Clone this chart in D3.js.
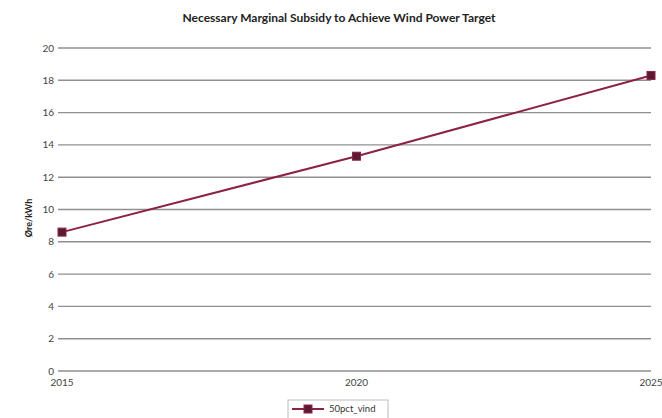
<!DOCTYPE html>
<html><head><meta charset="utf-8">
<script src="https://cdn.jsdelivr.net/npm/d3@7"></script>
<style>body{margin:0;background:#fff}svg{display:block;font-family:Lato,"Open Sans",sans-serif}</style>
</head><body>
<svg id="c" width="662" height="418"></svg>
<script>
const years = [2015, 2020, 2025];
const values = [8.6, 13.3, 18.3];
const yTicks = [0, 2, 4, 6, 8, 10, 12, 14, 16, 18, 20];
const seriesName = "50pct_vind";
const title = "Necessary Marginal Subsidy to Achieve Wind Power Target";
const yLabel = "Øre/kWh";

const svg = d3.select("#c");
const m = {l: 62, r: 651, t: 48, b: 371};
const x = d3.scaleLinear().domain([2015, 2025]).range([m.l, m.r]);
const y = d3.scaleLinear().domain([0, 20]).range([m.b, m.t]);
const lineColor = "#8c2344", markColor = "#5b1a33";

// gridlines
svg.append("g").selectAll("line").data(yTicks).join("line")
  .attr("x1", m.l - 4).attr("x2", m.r).attr("y1", d => y(d)).attr("y2", d => y(d))
  .attr("stroke", "#8f8f8f").attr("stroke-width", 1.4);

// y axis labels
svg.append("g").selectAll("text").data(yTicks).join("text")
  .attr("x", m.l - 8).attr("y", d => y(d)).attr("dy", "0.35em")
  .attr("text-anchor", "end").attr("font-size", 10).attr("fill", "#444").text(d => d);

// x axis labels
svg.append("g").selectAll("text").data(years).join("text")
  .attr("x", d => x(d)).attr("y", m.b + 15)
  .attr("text-anchor", "middle")
  .attr("font-size", 10).attr("fill", "#444").text(d => d);

// title
svg.append("text").attr("x", 339).attr("y", 22).attr("text-anchor", "middle")
  .attr("font-size", 12).attr("font-weight", "bold").attr("fill", "#222").text(title);

// y label
svg.append("text").attr("transform", "translate(32,218) rotate(-90)").attr("text-anchor", "middle")
  .attr("font-size", 9).attr("font-weight", "bold").attr("fill", "#222").text(yLabel);

// line
const data = years.map((yr, i) => ({yr, v: values[i]}));
svg.append("path").datum(data)
  .attr("d", d3.line().x(d => x(d.yr)).y(d => y(d.v)))
  .attr("fill", "none").attr("stroke", lineColor).attr("stroke-width", 2);
svg.append("g").selectAll("rect").data(data).join("rect")
  .attr("x", d => x(d.yr) - 4).attr("y", d => y(d.v) - 4).attr("width", 8).attr("height", 8)
  .attr("fill", markColor).attr("stroke", lineColor).attr("stroke-width", 1);

// legend
const lg = svg.append("g").attr("transform", "translate(288,400)");
lg.append("rect").attr("x", 0).attr("y", 0).attr("width", 100).attr("height", 20)
  .attr("fill", "#fff").attr("stroke", "#bbb").attr("stroke-width", 1);
lg.append("line").attr("x1", 4).attr("x2", 36).attr("y1", 9).attr("y2", 9)
  .attr("stroke", lineColor).attr("stroke-width", 2);
lg.append("rect").attr("x", 16).attr("y", 5).attr("width", 8).attr("height", 8)
  .attr("fill", markColor).attr("stroke", lineColor);
lg.append("text").attr("x", 41).attr("y", 9).attr("dy", "0.35em")
  .attr("font-size", 9.5).attr("fill", "#333").text(seriesName);
</script>
</body></html>
